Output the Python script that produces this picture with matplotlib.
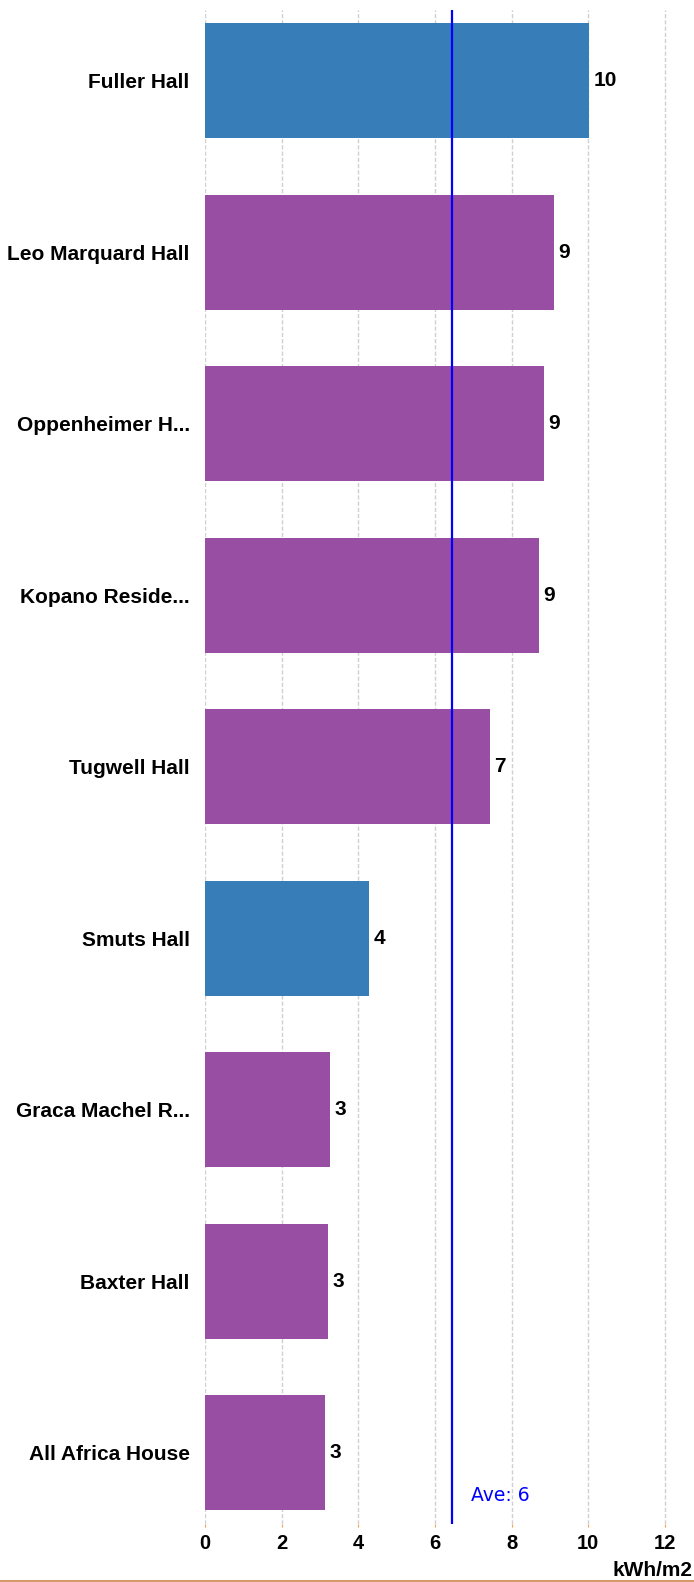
import numpy as np
import matplotlib
matplotlib.use("Agg")
import matplotlib.pyplot as plt
from matplotlib.lines import Line2D

halls = ['Fuller Hall', 'Leo Marquard Hall', 'Oppenheimer H...', 'Kopano Reside...',
         'Tugwell Hall', 'Smuts Hall', 'Graca Machel R...', 'Baxter Hall', 'All Africa House']
kwh_m2 = [10.02, 9.10, 8.84, 8.71, 7.44, 4.28, 3.26, 3.21, 3.14]
highlight = [True, False, False, False, False, True, False, False, False]
xticks = [0, 2, 4, 6, 8, 10, 12]

blue = '#377eb8'
purple = '#984ea3'
label_font = 'Liberation Sans'

fig = plt.figure(figsize=(6.94, 15.82), dpi=100)
ax = fig.add_axes([205/694, 1 - 1524/1582, (684-205)/694, (1524-9.5)/1582])

pos = np.arange(len(halls))
colors = [blue if h else purple for h in highlight]
ax.barh(pos, kwh_m2, height=0.67, color=colors, zorder=2)

for p, v in zip(pos, kwh_m2):
    ax.annotate(f'{v:.0f}', (v, p), xytext=(3, 0), textcoords='offset points',
                ha='left', va='center', fontsize=15, fontweight='bold',
                family=label_font, color='black')

ave = np.mean(kwh_m2)
ax.axvline(ave, color='#0000ff', lw=1.6, zorder=3)
ax.annotate(f'Ave: {ave:.0f}', (ave, 8.25), xytext=(14, 0), textcoords='offset points',
            ha='left', va='center', fontsize=13.5, color='#0000ff', family='DejaVu Sans')

ax.set_xlim(0, (684-205)/38.33)
ax.set_ylim(len(halls) - 1 + 0.415, -0.415)
ax.set_xticks(xticks)
ax.set_yticks(pos)
ax.set_yticklabels(halls)
for lab in ax.get_yticklabels():
    lab.set_fontsize(15)
    lab.set_fontweight('bold')
    lab.set_family(label_font)
for lab in ax.get_xticklabels():
    lab.set_fontsize(14.5)
    lab.set_fontweight('bold')
    lab.set_family(label_font)

ax.tick_params(axis='y', length=0, pad=11)
ax.tick_params(axis='x', length=2, color='#f0a050', pad=5)
ax.grid(axis='x', color='#d0d0d0', linestyle=(0, (3, 1.5)), lw=1, zorder=0)
ax.set_axisbelow(True)
for s in ax.spines.values():
    s.set_visible(False)

fig.text(693/694, 1 - 1570/1582, 'kWh/m2', ha='right', va='center', fontsize=15,
         fontweight='bold', family=label_font)
fig.add_artist(Line2D([0, 1], [0.6/1582, 0.6/1582], transform=fig.transFigure,
                      color='#d49a6a', lw=1.5))

fig.savefig('out.png', dpi=100)
